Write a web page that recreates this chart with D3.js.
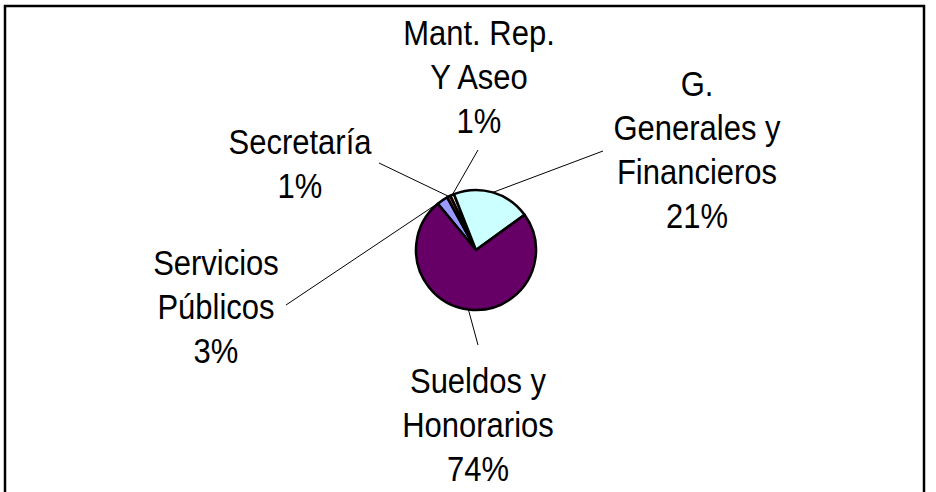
<!DOCTYPE html>
<html>
<head>
<meta charset="utf-8">
<script src="https://cdn.jsdelivr.net/npm/d3@7"></script>
<style>
  html, body { margin: 0; padding: 0; background: #fff; }
  svg { display: block; }
</style>
</head>
<body>
<svg id="chart" width="936" height="492"></svg>
<script>
// ---- data ----
const categories = ["Servicios Públicos", "Secretaría", "Mant. Rep. Y Aseo", "G. Generales y Financieros", "Sueldos y Honorarios"];
const values = [3, 1, 1, 21, 74];
const labelLines = [
  ["Servicios", "Públicos"],
  ["Secretaría"],
  ["Mant. Rep.", "Y Aseo"],
  ["G.", "Generales y", "Financieros"],
  ["Sueldos y", "Honorarios"]
];
const colors = ["#9999FF", "#993366", "#FFFFCC", "#CCFFFF", "#660066"];

// ---- layout (positions kept separate from data) ----
const W = 936, H = 492;
const cx = 476, cy = 250, R = 60;
const startDeg = -39.5;
const lineH = 43.8;
const textStretchY = 1.15;
// label block: center x, first line center y, leader line start point
const labelLayout = [
  { x: 216, y: 263, lx: 286, ly: 305 },
  { x: 300, y: 142, lx: 379, ly: 163 },
  { x: 479, y: 33,  lx: 478, ly: 150 },
  { x: 697, y: 84,  lx: 603, ly: 151 },
  { x: 478, y: 381, lx: 478, ly: 345 }
];

const svg = d3.select("#chart");

// frame
svg.append("rect")
  .attr("x", 5).attr("y", 6)
  .attr("width", 919).attr("height", 500)
  .attr("fill", "none").attr("stroke", "#000").attr("stroke-width", 2.5);

const total = d3.sum(values);
const pct = d3.format(".0%");

const pie = d3.pie().sort(null).value(d => d)
  .startAngle(startDeg * Math.PI / 180)
  .endAngle((startDeg + 360) * Math.PI / 180);
const arcs = pie(values);
const arc = d3.arc().innerRadius(0).outerRadius(R);

const g = svg.append("g").attr("transform", `translate(${cx},${cy})`);

g.selectAll("path.slice").data(arcs).enter().append("path")
  .attr("class", "slice")
  .attr("d", arc)
  .attr("fill", (d, i) => colors[i])
  .attr("stroke", "#000")
  .attr("stroke-width", 2.5)
  .attr("stroke-linejoin", "round");

// leader lines
arcs.forEach((a, i) => {
  const mid = (a.startAngle + a.endAngle) / 2;
  const ex = cx + R * Math.sin(mid), ey = cy - R * Math.cos(mid);
  const L = labelLayout[i];
  svg.append("line")
    .attr("x1", L.lx).attr("y1", L.ly)
    .attr("x2", ex).attr("y2", ey)
    .attr("stroke", "#000").attr("stroke-width", 1);
});

// labels
labelLines.forEach((lines, i) => {
  const L = labelLayout[i];
  const all = lines.concat([pct(values[i] / total)]);
  all.forEach((s, k) => {
    svg.append("text")
      .attr("transform", `translate(${L.x},${L.y + k * lineH}) scale(1,${textStretchY})`)
      .attr("text-anchor", "middle")
      .attr("dy", "0.35em")
      .attr("font-family", "'Liberation Sans', Arial, sans-serif")
      .attr("font-size", 31)
      .attr("fill", "#000")
      .text(s);
  });
});
</script>
</body>
</html>
